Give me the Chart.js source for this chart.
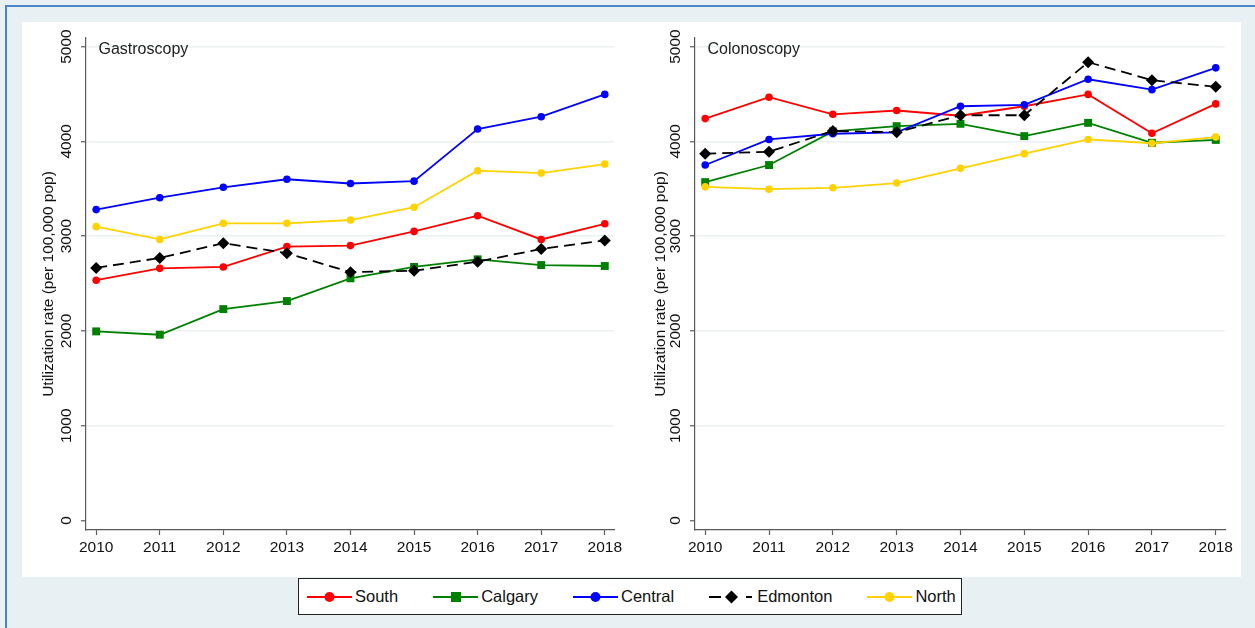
<!DOCTYPE html>
<html>
<head>
<meta charset="utf-8">
<script src="https://cdn.jsdelivr.net/npm/chart.js@4"></script>
<style>
  html, body { margin: 0; padding: 0; }
  body {
    width: 1255px; height: 628px; overflow: hidden; position: relative;
    background: #e8f0f3; font-family: "Liberation Sans", Arial, sans-serif;
  }
  #frame {
    position: absolute; left: 5px; top: 5px; width: 1300px; height: 700px;
    border-top: 2px solid #4c86c6; border-left: 2px solid #4c86c6;
  }
  #sheet { position: absolute; left: 22px; top: 22px; width: 1219px; height: 555px; background: #fff; }
  .panel { position: absolute; top: 22px; height: 556px; }
  #gastro-wrap { left: 22px; width: 612px; }
  #colono-wrap { left: 634px; width: 607px; }
  #legend {
    position: absolute; left: 298px; top: 578px; height: 37px; width: 664px;
    box-sizing: border-box; border: 1.5px solid #222; background: #fff;
    display: flex; align-items: center; padding-left: 8px;
    font-size: 16.5px; color: #111;
  }
  .item { display: flex; align-items: center; margin-right: 35px; }
  .item svg { margin-right: 3px; }
</style>
</head>
<body>
<div id="frame"></div>
<div id="sheet"></div>
<div class="panel" id="gastro-wrap"><canvas id="gastro"></canvas></div>
<div class="panel" id="colono-wrap"><canvas id="colono"></canvas></div>
<div id="legend"></div>

<script>
// Years on the x axis
const years = [2010, 2011, 2012, 2013, 2014, 2015, 2016, 2017, 2018];
const yTicks = [0, 1000, 2000, 3000, 4000, 5000];

// Zones, in legend order
const zones = ['South', 'Calgary', 'Central', 'Edmonton', 'North'];

// Gastroscopy utilization rate (per 100,000 pop)
const gastroSouth    = [2535, 2660, 2675, 2890, 2900, 3050, 3215, 2965, 3130];
const gastroCalgary  = [1995, 1960, 2230, 2315, 2555, 2675, 2755, 2695, 2685];
const gastroCentral  = [3280, 3405, 3515, 3600, 3555, 3580, 4130, 4260, 4495];
const gastroEdmonton = [2665, 2770, 2925, 2820, 2620, 2635, 2730, 2865, 2955];
const gastroNorth    = [3100, 2965, 3135, 3135, 3170, 3305, 3690, 3665, 3760];

// Colonoscopy utilization rate (per 100,000 pop)
const colonoSouth    = [4240, 4465, 4285, 4325, 4270, 4370, 4495, 4085, 4395];
const colonoCalgary  = [3570, 3750, 4105, 4160, 4185, 4055, 4195, 3985, 4015];
const colonoCentral  = [3750, 4020, 4080, 4095, 4370, 4385, 4655, 4545, 4775];
const colonoEdmonton = [3870, 3890, 4110, 4095, 4275, 4275, 4835, 4645, 4575];
const colonoNorth    = [3520, 3495, 3510, 3560, 3715, 3870, 4020, 3980, 4045];

// Line look per zone
const styles = [
  { color: '#ff0000', point: 'circle',  radius: 3.8, dash: [] },
  { color: '#008000', point: 'rect',    radius: 5.6, dash: [] },
  { color: '#0000ff', point: 'circle',  radius: 3.8, dash: [] },
  { color: '#000000', point: 'rectRot', radius: 6,   dash: [11, 6] },
  { color: '#ffd200', point: 'circle',  radius: 3.8, dash: [] }
];

const FONT = '"Liberation Sans", Arial, sans-serif';
const AXIS_COLOR = '#5a5a5a';

// Panel label drawn in the top-left corner of the plot area
const panelLabel = {
  id: 'panelLabel',
  afterDraw(chart, args, opts) {
    const ctx = chart.ctx;
    ctx.save();
    ctx.font = '16px ' + FONT;
    ctx.fillStyle = '#222';
    ctx.textBaseline = 'alphabetic';
    ctx.fillText(opts.text, chart.chartArea.left + 12.5, 32);
    ctx.restore();
  }
};

function makePanel(canvasId, label, series, axisWidth, rightPad) {
  const datasets = series.map((values, i) => ({
    label: zones[i],
    data: values.map((v, j) => ({ x: years[j], y: v })),
    borderColor: styles[i].color,
    backgroundColor: styles[i].color,
    borderWidth: 1.8,
    borderDash: styles[i].dash,
    pointStyle: styles[i].point,
    pointRadius: styles[i].radius,
    pointBorderWidth: 0,
    tension: 0,
    order: zones.length - i
  }));

  return new Chart(document.getElementById(canvasId), {
    type: 'line',
    data: { datasets },
    plugins: [panelLabel],
    options: {
      responsive: true,
      maintainAspectRatio: false,
      animation: false,
      layout: { padding: { left: 0, right: rightPad, top: 16, bottom: 0 } },
      plugins: {
        legend: { display: false },
        tooltip: { enabled: false },
        panelLabel: { text: label }
      },
      scales: {
        x: {
          type: 'linear',
          min: 2009.84,
          max: 2018.145,
          afterBuildTicks: axis => { axis.ticks = years.map(v => ({ value: v })); },
          afterFit: scale => { scale.height = 48; },
          border: { display: true, color: AXIS_COLOR, width: 1.2 },
          grid: { drawOnChartArea: false, tickLength: 5, tickColor: AXIS_COLOR, tickWidth: 1.2 },
          ticks: {
            font: { family: FONT, size: 15.5 },
            color: '#111',
            padding: 3,
            maxRotation: 0,
            callback: v => String(v)
          }
        },
        y: {
          min: -100,
          max: 5090,
          afterBuildTicks: axis => { axis.ticks = yTicks.map(v => ({ value: v })); },
          afterFit: scale => { scale.width = axisWidth; },
          border: { display: true, color: AXIS_COLOR, width: 1.2 },
          grid: {
            color: ctx => (ctx.tick && ctx.tick.value === 0) ? 'rgba(0,0,0,0)' : '#e9f1f2',
            lineWidth: 1.5,
            tickLength: 5,
            tickColor: AXIS_COLOR,
            tickWidth: 1.2
          },
          ticks: {
            font: { family: FONT, size: 15.5 },
            color: '#111',
            padding: -3,
            minRotation: 90,
            maxRotation: 90,
            crossAlign: 'center',
            callback: v => String(v)
          },
          title: {
            display: true,
            text: 'Utilization rate (per 100,000 pop)',
            font: { family: FONT, size: 15.5 },
            color: '#111',
            padding: { top: 17, bottom: 0 }
          }
        }
      }
    }
  });
}

makePanel('gastro', 'Gastroscopy',
  [gastroSouth, gastroCalgary, gastroCentral, gastroEdmonton, gastroNorth], 64, 20);
makePanel('colono', 'Colonoscopy',
  [colonoSouth, colonoCalgary, colonoCentral, colonoEdmonton, colonoNorth], 61, 16);

// Shared legend below both panels
const legend = document.getElementById('legend');
zones.forEach((name, i) => {
  const s = styles[i];
  let marker;
  if (s.point === 'rect') {
    marker = `<rect x="18" y="3" width="10" height="10" fill="${s.color}"/>`;
  } else if (s.point === 'rectRot') {
    marker = `<polygon points="22.5,1.5 29,8 22.5,14.5 16,8" fill="${s.color}"/>`;
  } else {
    marker = `<circle cx="22.5" cy="8" r="5" fill="${s.color}"/>`;
  }
  const dash = s.dash.length ? `stroke-dasharray="12 25 6"` : '';
  const item = document.createElement('div');
  item.className = 'item';
  item.innerHTML =
    `<svg width="45" height="16"><line x1="0" y1="8" x2="45" y2="8" stroke="${s.color}" stroke-width="1.8" ${dash}/>${marker}</svg>` +
    `<span>${name}</span>`;
  legend.appendChild(item);
});
</script>
</body>
</html>
